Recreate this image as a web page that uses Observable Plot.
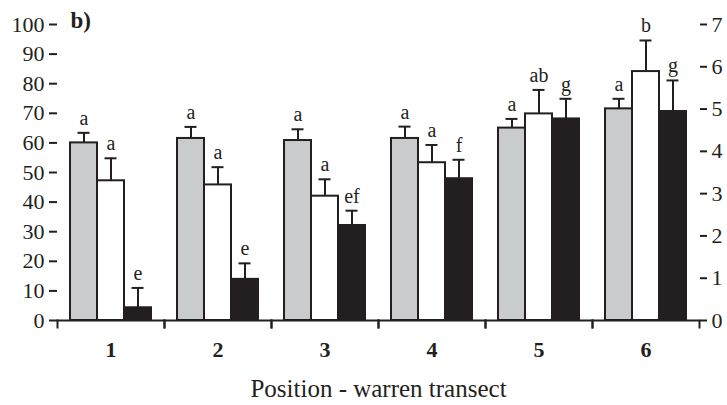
<!DOCTYPE html>
<html>
<head>
<meta charset="utf-8">
<script src="https://cdn.jsdelivr.net/npm/d3@7"></script>
<script src="https://cdn.jsdelivr.net/npm/@observablehq/plot@0.6"></script>
<style>
  html, body { margin: 0; padding: 0; background: #fff; }
  #chart svg { display: block; }
</style>
</head>
<body>
<div id="chart"></div>
<script>
// ---- data ----
const groups = ["1", "2", "3", "4", "5", "6"];
const seriesNames = ["S1", "S2", "S3"];
const seriesFills = ["#c9cbcd", "#ffffff", "#231f20"];

const s1Values  = [60.0, 61.5, 60.8, 61.5, 65.0, 71.5];
const s1Errors  = [3.4, 3.9, 3.8, 4.0, 3.1, 3.4];
const s1Letters = ["a", "a", "a", "a", "a", "a"];

const s2Values  = [47.2, 45.8, 42.0, 53.3, 69.8, 84.1];
const s2Errors  = [7.6, 6.0, 5.7, 6.0, 8.1, 10.5];
const s2Letters = ["a", "a", "a", "a", "ab", "b"];

const s3Values  = [4.3, 13.9, 32.1, 47.9, 68.1, 70.6];
const s3Errors  = [6.7, 5.4, 5.0, 6.4, 6.8, 10.5];
const s3Letters = ["e", "e", "ef", "f", "g", "g"];

const leftTicks = [0, 10, 20, 30, 40, 50, 60, 70, 80, 90, 100];
const rightTicks = [0, 1, 2, 3, 4, 5, 6, 7];
const rightMax = 7;
const panelLabel = "b)";
const xTitle = "Position - warren transect";

// ---- build table ----
const seriesData = {
  S1: {values: s1Values, errors: s1Errors, letters: s1Letters},
  S2: {values: s2Values, errors: s2Errors, letters: s2Letters},
  S3: {values: s3Values, errors: s3Errors, letters: s3Letters}
};
const rows = [];
groups.forEach((g, i) => {
  seriesNames.forEach(s => {
    const d = seriesData[s];
    rows.push({group: g, series: s, value: d.values[i], top: d.values[i] + d.errors[i], letter: d.letters[i]});
  });
});

const ink = "#231f20";

const chart = Plot.plot({
  width: 727,
  height: 405,
  marginLeft: 57,
  marginRight: 28,
  marginTop: 24,
  marginBottom: 85,
  style: {background: "#fff", color: ink, fontFamily: "Liberation Serif", fontSize: "22px"},
  fx: {domain: groups, padding: 0, label: null},
  x: {domain: seriesNames, paddingInner: 0, paddingOuter: 0.48, axis: null},
  y: {domain: [0, 100], axis: null},
  color: {domain: seriesNames, range: seriesFills},
  marks: [
    Plot.barY(rows, {fx: "group", x: "series", y: "value", fill: "series", stroke: ink, strokeWidth: 2}),
    Plot.ruleX(rows, {fx: "group", x: "series", y1: "value", y2: "top", stroke: ink, strokeWidth: 2}),
    Plot.tickY(rows, {fx: "group", x: "series", y: "top", stroke: ink, strokeWidth: 2, insetLeft: 7.5, insetRight: 7.5}),
    Plot.text(rows, {fx: "group", x: "series", y: "top", text: "letter", lineAnchor: "bottom", dy: -8, fill: ink, fontSize: 20}),
    Plot.ruleY([0], {stroke: ink, strokeWidth: 2}),
    Plot.frame({anchor: "left", insetTop: 296, insetBottom: -7, stroke: ink, strokeWidth: 2}),
    Plot.frame({anchor: "right", insetTop: 296, insetBottom: -7, stroke: ink, strokeWidth: 2}),
    Plot.axisY({anchor: "left", ticks: leftTicks, tickSize: 8, tickPadding: 5, line: true, label: null, strokeWidth: 2, fontSize: 22}),
    Plot.axisY({anchor: "right", ticks: rightTicks.map(v => v * 100 / rightMax), tickFormat: d => Math.round(d * rightMax / 100), tickSize: 7, tickPadding: 5, line: true, label: null, strokeWidth: 2, fontSize: 22}),
    Plot.axisFx({anchor: "bottom", tickSize: 0, tickPadding: 21, fontWeight: "bold", label: null, fontSize: 22}),
    Plot.axisFx({anchor: "bottom", tickSize: 0, ticks: [], label: xTitle, labelAnchor: "center", labelOffset: 76, fontSize: 25}),
    Plot.text([{group: groups[0]}], {fx: "group", text: () => panelLabel, frameAnchor: "top-left", dx: 13, dy: -13, fontWeight: "bold", fill: ink, fontSize: 23})
  ]
});
document.getElementById("chart").appendChild(chart);
</script>
</body>
</html>
